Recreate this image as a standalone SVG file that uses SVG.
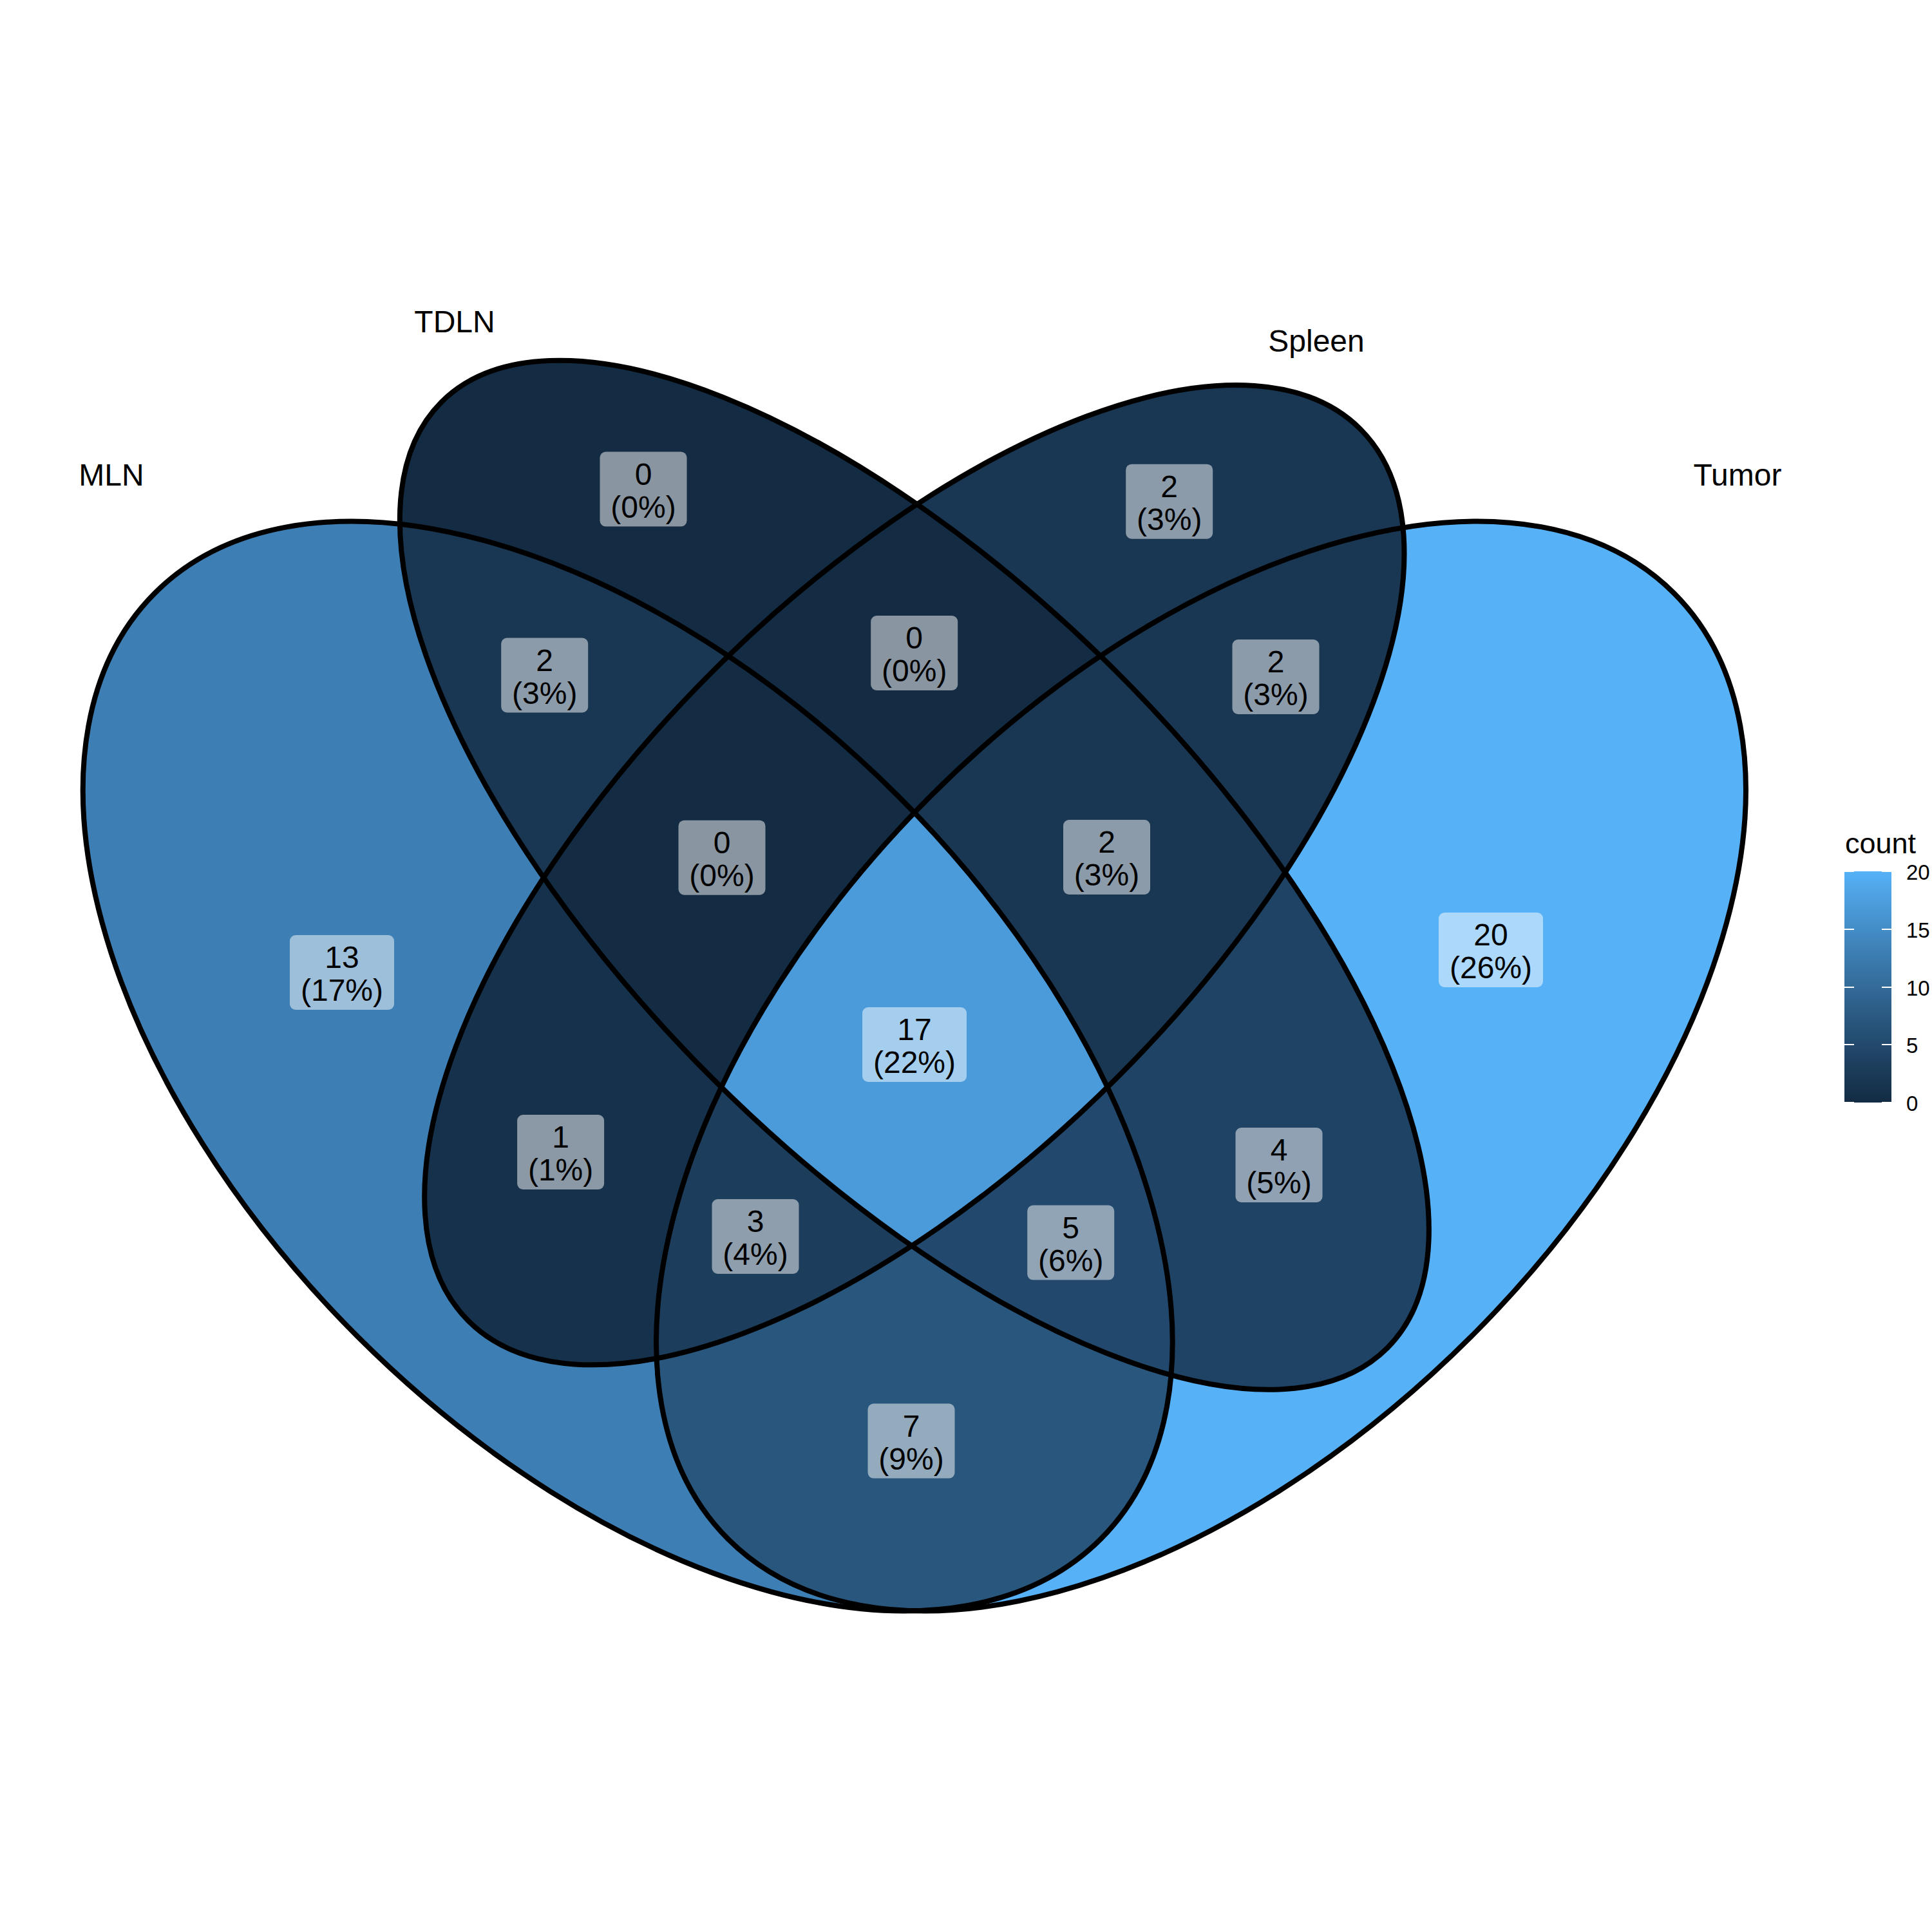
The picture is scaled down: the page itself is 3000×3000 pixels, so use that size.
<svg xmlns="http://www.w3.org/2000/svg" xmlns:xlink="http://www.w3.org/1999/xlink" width="3000" height="3000" viewBox="0 0 3000 3000">
<style>
.lbl{fill:#ffffff;fill-opacity:0.5}
.t{font-family:"Liberation Sans",Arial,Helvetica,sans-serif;font-size:48px;fill:#000000;text-anchor:middle}
.set{font-family:"Liberation Sans",Arial,Helvetica,sans-serif;font-size:48px;fill:#000000;text-anchor:middle}
.leg{font-family:"Liberation Sans",Arial,Helvetica,sans-serif;fill:#000000}
.edge{fill:none;stroke:#000000;stroke-width:8}
.tick{stroke:#ffffff;stroke-width:2}
</style>
<defs>
<clipPath id="cA"><ellipse cx="974.7" cy="1655.5" rx="1038.6" ry="593.5" transform="rotate(45 974.7 1655.5)"/></clipPath>
<clipPath id="cB"><ellipse cx="1419.85" cy="1358.7" rx="1038.6" ry="445.1" transform="rotate(45 1419.85 1358.7)"/></clipPath>
<clipPath id="cC"><ellipse cx="1419.85" cy="1358.7" rx="979.3" ry="445.1" transform="rotate(-45 1419.85 1358.7)"/></clipPath>
<clipPath id="cD"><ellipse cx="1865" cy="1655.5" rx="1038.6" ry="593.5" transform="rotate(-45 1865 1655.5)"/></clipPath>
<mask id="mA" maskUnits="userSpaceOnUse" x="0" y="0" width="3000" height="3000"><rect width="3000" height="3000" fill="#ffffff"/><ellipse cx="974.7" cy="1655.5" rx="1038.6" ry="593.5" transform="rotate(45 974.7 1655.5)" fill="#000000"/></mask>
<mask id="mB" maskUnits="userSpaceOnUse" x="0" y="0" width="3000" height="3000"><rect width="3000" height="3000" fill="#ffffff"/><ellipse cx="1419.85" cy="1358.7" rx="1038.6" ry="445.1" transform="rotate(45 1419.85 1358.7)" fill="#000000"/></mask>
<mask id="mC" maskUnits="userSpaceOnUse" x="0" y="0" width="3000" height="3000"><rect width="3000" height="3000" fill="#ffffff"/><ellipse cx="1419.85" cy="1358.7" rx="979.3" ry="445.1" transform="rotate(-45 1419.85 1358.7)" fill="#000000"/></mask>
<mask id="mD" maskUnits="userSpaceOnUse" x="0" y="0" width="3000" height="3000"><rect width="3000" height="3000" fill="#ffffff"/><ellipse cx="1865" cy="1655.5" rx="1038.6" ry="593.5" transform="rotate(-45 1865 1655.5)" fill="#000000"/></mask>
<rect id="full" x="0" y="0" width="3000" height="3000"/>
<linearGradient id="grad" x1="0" y1="0" x2="0" y2="1">
<stop offset="0" stop-color="#56B1F7"/>
<stop offset="0.15" stop-color="#4B9BDA"/>
<stop offset="0.35" stop-color="#3D7FB4"/>
<stop offset="0.65" stop-color="#29567D"/>
<stop offset="0.75" stop-color="#22496D"/>
<stop offset="0.85" stop-color="#1C3D5B"/>
<stop offset="0.95" stop-color="#16314B"/>
<stop offset="1" stop-color="#132B43"/>
</linearGradient>
</defs>
<rect width="3000" height="3000" fill="#ffffff"/>

<g id="regions">
<!-- MLN only: 13 -->
<g id="r-MLN" clip-path="url(#cA)"><g mask="url(#mB)"><g mask="url(#mC)"><g mask="url(#mD)"><use href="#full" fill="#3D7FB4"/></g></g></g></g>
<!-- TDLN only: 0 -->
<g id="r-TDLN" clip-path="url(#cB)"><g mask="url(#mA)"><g mask="url(#mC)"><g mask="url(#mD)"><use href="#full" fill="#132B43"/></g></g></g></g>
<!-- Spleen only: 2 -->
<g id="r-Spleen" clip-path="url(#cC)"><g mask="url(#mA)"><g mask="url(#mB)"><g mask="url(#mD)"><use href="#full" fill="#193753"/></g></g></g></g>
<!-- Tumor only: 20 -->
<g id="r-Tumor" clip-path="url(#cD)"><g mask="url(#mA)"><g mask="url(#mB)"><g mask="url(#mC)"><use href="#full" fill="#56B1F7"/></g></g></g></g>
<!-- MLN TDLN: 2 -->
<g id="r-AB" clip-path="url(#cA)"><g clip-path="url(#cB)"><g mask="url(#mC)"><g mask="url(#mD)"><use href="#full" fill="#193753"/></g></g></g></g>
<!-- MLN Spleen: 1 -->
<g id="r-AC" clip-path="url(#cA)"><g clip-path="url(#cC)"><g mask="url(#mB)"><g mask="url(#mD)"><use href="#full" fill="#16314B"/></g></g></g></g>
<!-- MLN Tumor: 7 -->
<g id="r-AD" clip-path="url(#cA)"><g clip-path="url(#cD)"><g mask="url(#mB)"><g mask="url(#mC)"><use href="#full" fill="#29567D"/></g></g></g></g>
<!-- TDLN Spleen: 0 -->
<g id="r-BC" clip-path="url(#cB)"><g clip-path="url(#cC)"><g mask="url(#mA)"><g mask="url(#mD)"><use href="#full" fill="#132B43"/></g></g></g></g>
<!-- TDLN Tumor: 4 -->
<g id="r-BD" clip-path="url(#cB)"><g clip-path="url(#cD)"><g mask="url(#mA)"><g mask="url(#mC)"><use href="#full" fill="#1F4364"/></g></g></g></g>
<!-- Spleen Tumor: 2 -->
<g id="r-CD" clip-path="url(#cC)"><g clip-path="url(#cD)"><g mask="url(#mA)"><g mask="url(#mB)"><use href="#full" fill="#193753"/></g></g></g></g>
<!-- MLN TDLN Spleen: 0 -->
<g id="r-ABC" clip-path="url(#cA)"><g clip-path="url(#cB)"><g clip-path="url(#cC)"><g mask="url(#mD)"><use href="#full" fill="#132B43"/></g></g></g></g>
<!-- MLN TDLN Tumor: 5 -->
<g id="r-ABD" clip-path="url(#cA)"><g clip-path="url(#cB)"><g clip-path="url(#cD)"><g mask="url(#mC)"><use href="#full" fill="#22496D"/></g></g></g></g>
<!-- MLN Spleen Tumor: 3 -->
<g id="r-ACD" clip-path="url(#cA)"><g clip-path="url(#cC)"><g clip-path="url(#cD)"><g mask="url(#mB)"><use href="#full" fill="#1C3D5B"/></g></g></g></g>
<!-- TDLN Spleen Tumor: 2 -->
<g id="r-BCD" clip-path="url(#cB)"><g clip-path="url(#cC)"><g clip-path="url(#cD)"><g mask="url(#mA)"><use href="#full" fill="#193753"/></g></g></g></g>
<!-- all: 17 -->
<g id="r-ABCD" clip-path="url(#cA)"><g clip-path="url(#cB)"><g clip-path="url(#cC)"><g clip-path="url(#cD)"><use href="#full" fill="#4B9BDA"/></g></g></g></g>
</g>

<g id="edges">
<ellipse id="MLN" class="edge" cx="974.7" cy="1655.5" rx="1038.6" ry="593.5" transform="rotate(45 974.7 1655.5)"/>
<ellipse id="TDLN" class="edge" cx="1419.85" cy="1358.7" rx="1038.6" ry="445.1" transform="rotate(45 1419.85 1358.7)"/>
<ellipse id="Spleen" class="edge" cx="1419.85" cy="1358.7" rx="979.3" ry="445.1" transform="rotate(-45 1419.85 1358.7)"/>
<ellipse id="Tumor" class="edge" cx="1865" cy="1655.5" rx="1038.6" ry="593.5" transform="rotate(-45 1865 1655.5)"/>
</g>

<g id="set-labels">
<text class="set" x="173" y="754">MLN</text>
<text class="set" x="706" y="516">TDLN</text>
<text class="set" x="2044" y="546">Spleen</text>
<text class="set" x="2698" y="754">Tumor</text>
</g>

<g id="count-labels">
<g id="l-MLN"><rect class="lbl" x="450" y="1452" width="162" height="116" rx="9"/><text class="t" x="531" y="1503">13</text><text class="t" x="531" y="1554">(17%)</text></g>
<g id="l-TDLN"><rect class="lbl" x="931.5" y="701.6" width="135" height="116" rx="9"/><text class="t" x="999" y="752.6">0</text><text class="t" x="999" y="803.6">(0%)</text></g>
<g id="l-Spleen"><rect class="lbl" x="1748.2" y="720.7" width="135" height="116" rx="9"/><text class="t" x="1815.7" y="771.7">2</text><text class="t" x="1815.7" y="822.7">(3%)</text></g>
<g id="l-Tumor"><rect class="lbl" x="2234" y="1417" width="162" height="116" rx="9"/><text class="t" x="2315" y="1468">20</text><text class="t" x="2315" y="1519">(26%)</text></g>
<g id="l-AB"><rect class="lbl" x="778.2" y="990.5" width="135" height="116" rx="9"/><text class="t" x="845.7" y="1041.5">2</text><text class="t" x="845.7" y="1092.5">(3%)</text></g>
<g id="l-BC"><rect class="lbl" x="1352.2" y="956" width="135" height="116" rx="9"/><text class="t" x="1419.7" y="1007">0</text><text class="t" x="1419.7" y="1058">(0%)</text></g>
<g id="l-CD"><rect class="lbl" x="1913.5" y="993" width="135" height="116" rx="9"/><text class="t" x="1981" y="1044">2</text><text class="t" x="1981" y="1095">(3%)</text></g>
<g id="l-ABC"><rect class="lbl" x="1053.5" y="1273.7" width="135" height="116" rx="9"/><text class="t" x="1121" y="1324.7">0</text><text class="t" x="1121" y="1375.7">(0%)</text></g>
<g id="l-BCD"><rect class="lbl" x="1651" y="1273" width="135" height="116" rx="9"/><text class="t" x="1718.5" y="1324">2</text><text class="t" x="1718.5" y="1375">(3%)</text></g>
<g id="l-AC"><rect class="lbl" x="803.1" y="1731" width="135" height="116" rx="9"/><text class="t" x="870.6" y="1782">1</text><text class="t" x="870.6" y="1833">(1%)</text></g>
<g id="l-ABCD"><rect class="lbl" x="1339" y="1564" width="162" height="116" rx="9"/><text class="t" x="1420" y="1615">17</text><text class="t" x="1420" y="1666">(22%)</text></g>
<g id="l-BD"><rect class="lbl" x="1918.5" y="1751" width="135" height="116" rx="9"/><text class="t" x="1986" y="1802">4</text><text class="t" x="1986" y="1853">(5%)</text></g>
<g id="l-ACD"><rect class="lbl" x="1105.5" y="1862" width="135" height="116" rx="9"/><text class="t" x="1173" y="1913">3</text><text class="t" x="1173" y="1964">(4%)</text></g>
<g id="l-ABD"><rect class="lbl" x="1595.2" y="1871.6" width="135" height="116" rx="9"/><text class="t" x="1662.7" y="1922.6">5</text><text class="t" x="1662.7" y="1973.6">(6%)</text></g>
<g id="l-AD"><rect class="lbl" x="1347.5" y="2179.6" width="135" height="116" rx="9"/><text class="t" x="1415" y="2230.6">7</text><text class="t" x="1415" y="2281.6">(9%)</text></g>
</g>

<g id="legend">
<text class="leg" x="2865" y="1325" font-size="45">count</text>
<rect x="2864" y="1353" width="73" height="359" fill="url(#grad)"/>
<line class="tick" x1="2864" y1="1353" x2="2879" y2="1353"/><line class="tick" x1="2922" y1="1353" x2="2937" y2="1353"/>
<line class="tick" x1="2864" y1="1443" x2="2879" y2="1443"/><line class="tick" x1="2922" y1="1443" x2="2937" y2="1443"/>
<line class="tick" x1="2864" y1="1533" x2="2879" y2="1533"/><line class="tick" x1="2922" y1="1533" x2="2937" y2="1533"/>
<line class="tick" x1="2864" y1="1622" x2="2879" y2="1622"/><line class="tick" x1="2922" y1="1622" x2="2937" y2="1622"/>
<line class="tick" x1="2864" y1="1712" x2="2879" y2="1712"/><line class="tick" x1="2922" y1="1712" x2="2937" y2="1712"/>
<text class="leg" x="2960" y="1366" font-size="33">20</text>
<text class="leg" x="2960" y="1456" font-size="33">15</text>
<text class="leg" x="2960" y="1546" font-size="33">10</text>
<text class="leg" x="2960" y="1635" font-size="33">5</text>
<text class="leg" x="2960" y="1725" font-size="33">0</text>
</g>
</svg>
